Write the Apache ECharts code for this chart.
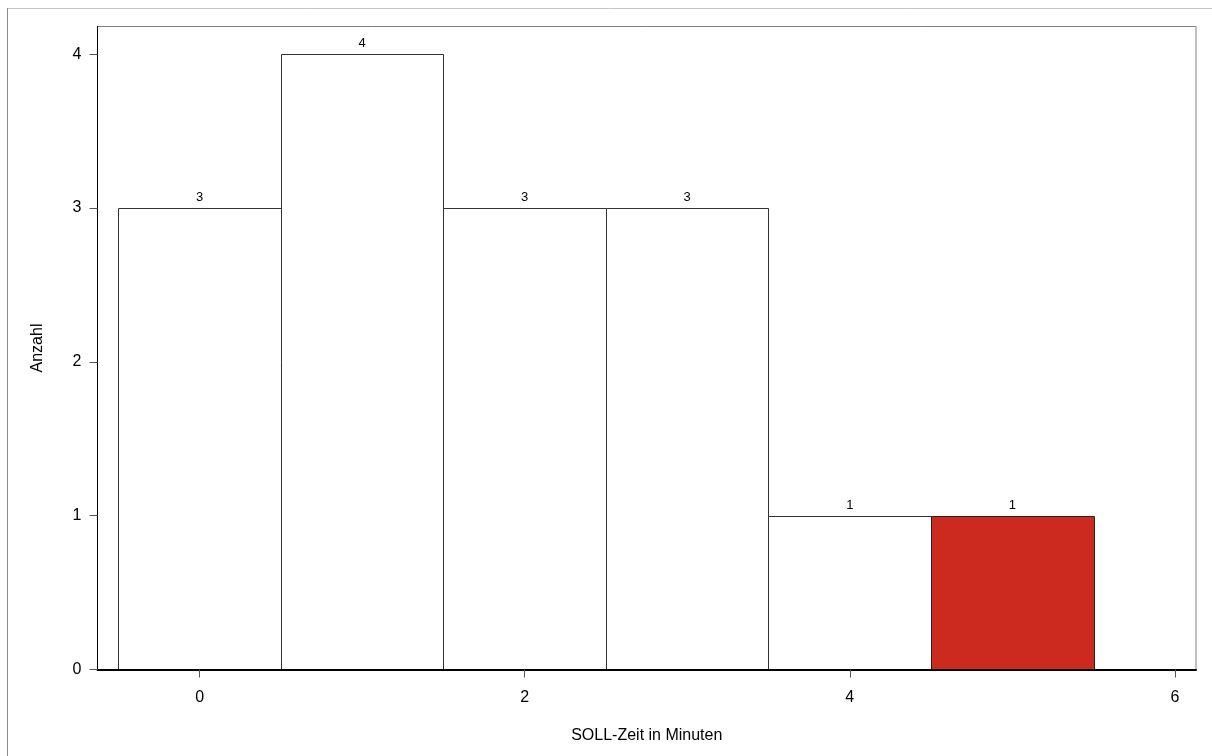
<!DOCTYPE html>
<html><head><meta charset="utf-8">
<script src="https://cdn.jsdelivr.net/npm/echarts@6/dist/echarts.min.js"></script>
<style>html,body{margin:0;padding:0;background:#fff}#c{width:1212px;height:756px}</style>
</head><body><div id="c"></div>
<script>
const minutes = [0, 1, 2, 3, 4, 5];
const counts = [3, 4, 3, 3, 1, 1];
const highlighted = [false, false, false, false, false, true];
const xTicks = [0, 2, 4, 6];
const yTicks = [0, 1, 2, 3, 4];

const data = minutes.map((m, i) => [m, counts[i], highlighted[i] ? 1 : 0]);
const chart = echarts.init(document.getElementById('c'));
const font = 'Liberation Sans, Arial, sans-serif';
chart.setOption({
  animation: false,
  backgroundColor: '#fff',
  graphic: [
    {type: 'line', shape: {x1: 7, y1: 8.5, x2: 1212, y2: 8.5}, style: {stroke: '#c4c4c4', lineWidth: 1}},
    {type: 'line', shape: {x1: 7.5, y1: 8, x2: 7.5, y2: 756}, style: {stroke: '#8a8a8a', lineWidth: 1}}
  ],
  grid: {left: 97.5, right: 16, top: 26.5, bottom: 86.5, show: true, borderColor: '#808080', borderWidth: 1, backgroundColor: 'transparent'},
  xAxis: {
    type: 'value', min: -0.628, max: 6.13, z: 10,
    name: 'SOLL-Zeit in Minuten', nameLocation: 'middle', nameGap: 58,
    nameTextStyle: {fontFamily: font, fontSize: 16, color: '#000'},
    axisLine: {show: true, onZero: false, lineStyle: {color: '#000', width: 2}},
    axisTick: {show: true, customValues: xTicks, length: 8, lineStyle: {color: '#555'}},
    axisLabel: {customValues: xTicks, fontFamily: font, fontSize: 16, color: '#000', margin: 20},
    splitLine: {show: false}
  },
  yAxis: {
    type: 'value', min: 0, max: 4.18, z: 10,
    name: 'Anzahl', nameLocation: 'middle', nameGap: 52, nameRotate: 90,
    nameTextStyle: {fontFamily: font, fontSize: 16, color: '#000'},
    axisLine: {show: true, onZero: false, lineStyle: {color: '#000', width: 1}},
    axisTick: {show: true, customValues: yTicks, length: 8, lineStyle: {color: '#555'}},
    axisLabel: {customValues: yTicks, fontFamily: font, fontSize: 16, color: '#000', margin: 16},
    splitLine: {show: false}
  },
  series: [{
    type: 'custom',
    data: data,
    encode: {x: 0, y: 1},
    z: 1,
    renderItem: function (params, api) {
      const x = api.value(0), y = api.value(1), hl = api.value(2);
      const p0 = api.coord([x - 0.5, 0]);
      const p1 = api.coord([x + 0.5, y]);
      const pc = api.coord([x, y]);
      return {
        type: 'group',
        children: [
          {type: 'rect', shape: {x: Math.round(p0[0]) + 0.5, y: Math.round(p1[1]) + 0.5, width: Math.round(p1[0]) - Math.round(p0[0]), height: Math.round(p0[1]) - Math.round(p1[1])},
           style: {fill: hl ? '#cc2a1e' : '#fff', stroke: hl ? '#222' : '#333', lineWidth: 1}},
          {type: 'text', style: {text: String(y), x: pc[0], y: pc[1] - 4, textAlign: 'center', textVerticalAlign: 'bottom', fontFamily: font, fontSize: 13, fill: '#000'}}
        ]
      };
    }
  }]
});
</script></body></html>
